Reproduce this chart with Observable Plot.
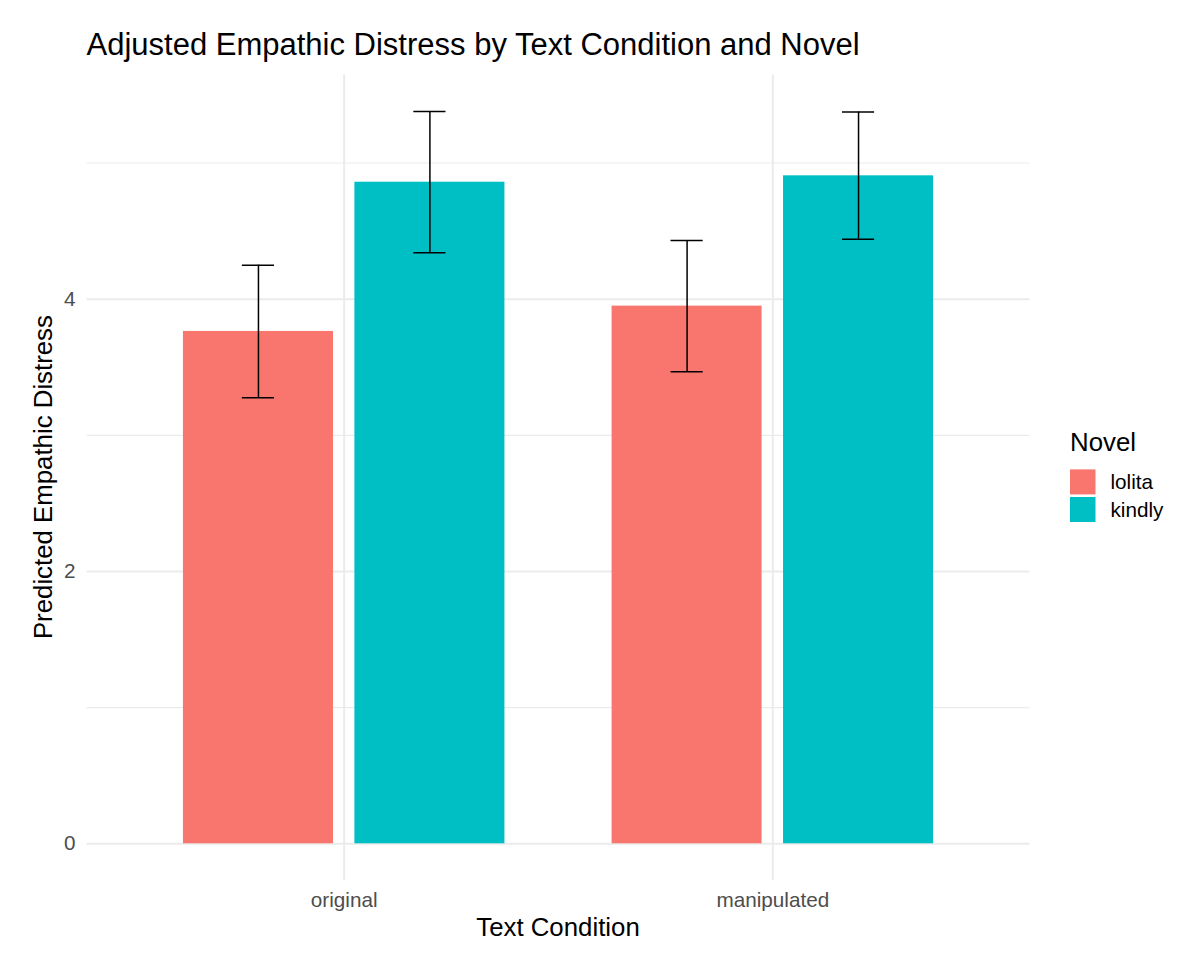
<!DOCTYPE html>
<html>
<head>
<meta charset="utf-8">
<script src="https://cdn.jsdelivr.net/npm/d3@7"></script>
<script src="https://cdn.jsdelivr.net/npm/@observablehq/plot@0.6"></script>
<style>
  body { margin: 0; background: #ffffff; }
  #chart { position: relative; width: 1200px; height: 967px; }
</style>
</head>
<body>
<div id="chart"></div>
<script>
// ---- Data ----
const conditions = ["original", "manipulated"];
const novels = ["lolita", "kindly"];
const lolitaMean = [3.763, 3.949];
const kindlyMean = [4.859, 4.906];
const lolitaLower = [3.276, 3.467];
const kindlyLower = [4.341, 4.441];
const lolitaUpper = [4.250, 4.431];
const kindlyUpper = [5.379, 5.374];
const novelColors = ["#F8766D", "#00BFC4"];
const yMajorTicks = [0, 2, 4];
const yMinorTicks = [1, 3, 5];
const titleText = "Adjusted Empathic Distress by Text Condition and Novel";
const xTitle = "Text Condition";
const yTitle = "Predicted Empathic Distress";
const legendTitle = "Novel";

const seriesMean = {lolita: lolitaMean, kindly: kindlyMean};
const seriesLower = {lolita: lolitaLower, kindly: kindlyLower};
const seriesUpper = {lolita: lolitaUpper, kindly: kindlyUpper};
const rows = [];
conditions.forEach((c, i) => {
  novels.forEach(n => {
    rows.push({condition: c, novel: n, mean: seriesMean[n][i], lower: seriesLower[n][i], upper: seriesUpper[n][i]});
  });
});

// ---- Layout ----
const W = 1200, H = 967;
const mL = 86.5, mR = 170.5, mT = 74.3, mB = 87.1;
const step = (W - mL - mR) / 2.2;       // ggplot discrete expansion 0.6 each side
const bandW = 0.75 * step;              // group band
const slot = 0.4 * step;                // dodge slot
const barW = 0.35 * step;
const capW = 0.075 * step;
const maxU = d3.max(rows, d => d.upper);
const yDomain = [-0.05 * maxU, 1.05 * maxU];

const fontFamily = "'Liberation Sans', Arial, Helvetica, sans-serif";
const gridColor = "#EBEBEB";

const marks = [
  Plot.gridY(yMinorTicks, {stroke: gridColor, strokeOpacity: 1, strokeWidth: 1.2}),
  Plot.gridY(yMajorTicks, {stroke: gridColor, strokeOpacity: 1, strokeWidth: 2}),
  Plot.gridX({stroke: gridColor, strokeOpacity: 1, strokeWidth: 2}),
  Plot.axisY(yMajorTicks, {tickSize: 0, tickPadding: 11.6, fontSize: 20.7, color: "#4D4D4D", label: null, tickFormat: d3.format("d")}),
  Plot.axisX({tickSize: 0, tickPadding: 11.6, fontSize: 20.7, color: "#4D4D4D", label: null})
];

novels.forEach((n, k) => {
  const sub = rows.filter(d => d.novel === n);
  const left = k * slot;                    // bar start inside the band
  marks.push(Plot.barY(sub, {
    x: "condition", y: "mean", fill: "novel",
    insetLeft: left, insetRight: bandW - left - barW
  }));
});
novels.forEach((n, k) => {
  const sub = rows.filter(d => d.novel === n);
  const center = k * slot + barW / 2;
  const dx = center - bandW / 2;
  marks.push(Plot.ruleX(sub, {x: "condition", y1: "lower", y2: "upper", dx, stroke: "#000", strokeWidth: 1.5}));
  const capOpts = {x: "condition", stroke: "#000", strokeWidth: 1.5,
    insetLeft: center - capW / 2, insetRight: bandW - center - capW / 2};
  marks.push(Plot.tickY(sub, {...capOpts, y: "upper"}));
  marks.push(Plot.tickY(sub, {...capOpts, y: "lower"}));
});

const chart = Plot.plot({
  width: W, height: H,
  marginLeft: mL, marginRight: mR, marginTop: mT, marginBottom: mB,
  style: {fontFamily, background: "#ffffff", color: "#000"},
  x: {domain: conditions, paddingInner: 0.25, paddingOuter: 0.225, align: 0.5, round: false},
  y: {domain: yDomain},
  color: {domain: novels, range: novelColors},
  marks
});

document.getElementById("chart").appendChild(chart);

// ---- Titles and legend ----
const svg = d3.select(chart);
svg.append("text")
  .attr("x", mL).attr("y", 55)
  .attr("text-anchor", "start")
  .attr("font-size", 31).attr("fill", "#000")
  .attr("font-family", fontFamily)
  .text(titleText);
svg.append("text")
  .attr("x", (mL + W - mR) / 2).attr("y", 936)
  .attr("text-anchor", "middle")
  .attr("font-size", 25.8).attr("fill", "#000")
  .attr("font-family", fontFamily)
  .text(xTitle);
svg.append("text")
  .attr("transform", `translate(51.7,${(mT + H - mB) / 2}) rotate(-90)`)
  .attr("text-anchor", "middle")
  .attr("font-size", 25.8).attr("fill", "#000")
  .attr("font-family", fontFamily)
  .text(yTitle);

const color = chart.scale("color");
const lg = svg.append("g").attr("font-family", fontFamily).attr("text-anchor", "start");
lg.append("text").attr("x", 1070).attr("y", 451).attr("text-anchor", "start")
  .attr("font-size", 25.8).attr("fill", "#000").text(legendTitle);
color.domain.forEach((n, k) => {
  const top = 469.4 + k * 27.6;
  lg.append("rect").attr("x", 1070).attr("y", top).attr("width", 25.5).attr("height", 25)
    .attr("fill", color.apply(n));
  lg.append("text").attr("x", 1110.5).attr("y", top + 12.5 + 7.3).attr("text-anchor", "start")
    .attr("font-size", 20.7).attr("fill", "#000").text(n);
});
</script>
</body>
</html>
